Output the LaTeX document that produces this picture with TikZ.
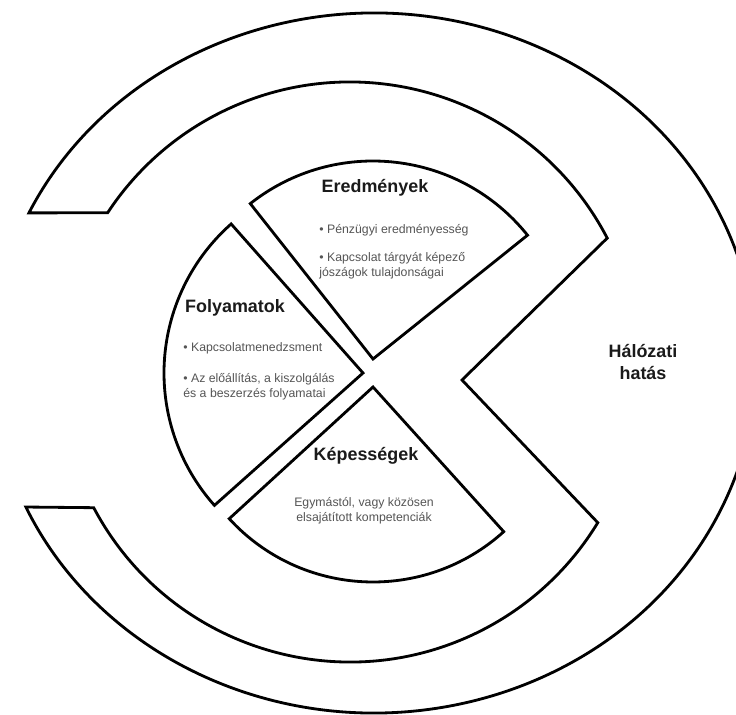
\documentclass[tikz,border=0pt]{standalone}
\usepackage{fontspec}
\setmainfont{Liberation Sans}
\usetikzlibrary{calc}
\definecolor{headtext}{HTML}{1A1A1A}
\definecolor{bodytext}{HTML}{555555}

\begin{document}
\begin{tikzpicture}[x=0.02cm, y=0.02cm,
  piece/.style={draw=black, line width=1.6pt, fill=white, line join=miter},
  title/.style={font=\fontsize{10.2}{13}\selectfont\bfseries, text=headtext,
                inner sep=0pt, align=center},
  bullettext/.style={font=\fontsize{7}{8.4}\selectfont, text=bodytext,
                     inner sep=0pt, align=left, anchor=west},
]
\useasboundingbox (0,0) rectangle (736,-715);
\clip (0,0) rectangle (736,-715);

% centres of the ring and of the three sectors
\coordinate (outerc) at (374,-363);
\coordinate (innerc) at (350,-372);
\coordinate (notch) at (462,-380);
\coordinate (ered) at (373,-359);
\coordinate (foly) at (363,-373);
\coordinate (kep) at (373,-387);

% network ring, open on the left, notched on the right
\draw[piece] (outerc) ++(154.6:382 and 350)
  arc[start angle=154.6, end angle=-155.7, x radius=382, y radius=350]
  -- ($(innerc)+(207.9:290)$)
  arc[start angle=207.9, end angle=328.7, radius=290]
  -- (notch)
  -- ($(innerc)+(27.5:290)$)
  arc[start angle=27.5, end angle=146.7, radius=290]
  -- cycle;

% the three sectors
\draw[piece] (ered) -- ++(38.7:198) arc[start angle=38.7, end angle=128.3, radius=198] -- cycle;
\draw[piece] (foly) -- ++(131.5:199) arc[start angle=131.5, end angle=221.7, radius=199] -- cycle;
\draw[piece] (kep) -- ++(222.5:195) arc[start angle=222.5, end angle=312.1, radius=195] -- cycle;

% labels
\node[title] (eredtitle) at (375,-188) {Eredmények};
\node[bullettext] (ered1) at (319,-230) {\textbullet{} Pénzügyi eredményesség};
\node[bullettext] (ered2) at (319,-266) {\textbullet{} Kapcsolat tárgyát képező\\jószágok tulajdonságai};

\node[title] (folytitle) at (235,-308) {Folyamatok};
\node[bullettext] (foly1) at (183,-348) {\textbullet{} Kapcsolatmenedzsment};
\node[bullettext] (foly2) at (183,-386.5) {\textbullet{} Az előállítás, a kiszolgálás\\és a beszerzés folyamatai};

\node[title] (keptitle) at (366,-456) {Képességek};
\node[bullettext, anchor=center, align=center] (kep1) at (364,-510.5) {Egymástól, vagy közösen\\elsajátított kompetenciák};

\node[title] (halo) at (643,-362) {Hálózati\\hatás};

\end{tikzpicture}
\end{document}
